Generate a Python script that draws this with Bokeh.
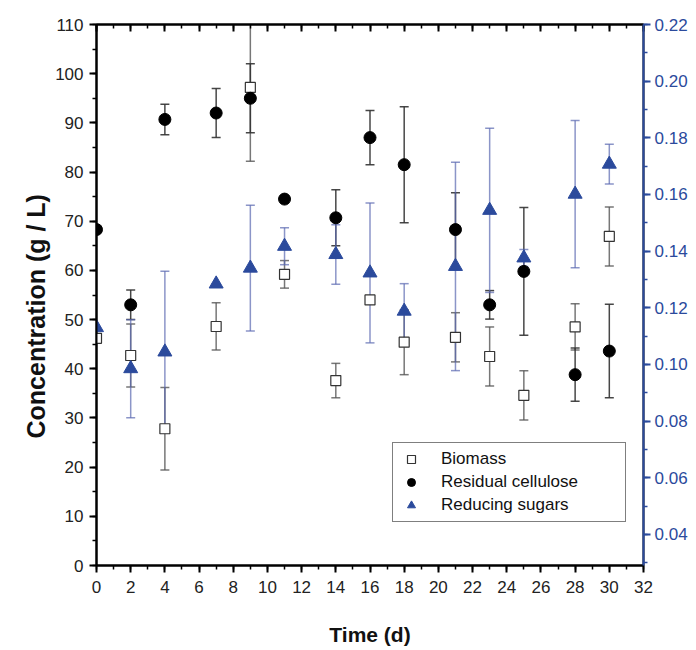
from bokeh.plotting import figure
from bokeh.models import (ColumnDataSource, Range1d, LinearAxis, Whisker, TeeHead, Title,
                          SingleIntervalTicker, PrintfTickFormatter, Legend, LegendItem)
from bokeh.embed import file_html
from bokeh.resources import INLINE

# ---- data ----
time_bio = [0, 2, 4, 7, 9, 11, 14, 16, 18, 21, 23, 25, 28, 30]
biomass = [46.2, 42.7, 27.8, 48.6, 97.2, 59.2, 37.6, 54.0, 45.4, 46.4, 42.5, 34.6, 48.5, 66.9]
biomass_err = [0.0, 6.4, 8.4, 4.8, 15.0, 2.8, 3.5, 0.0, 6.6, 5.0, 6.0, 5.0, 4.7, 6.0]

time_cel = [0, 2, 4, 7, 9, 11, 14, 16, 18, 21, 23, 25, 28, 30]
cellulose = [68.3, 53.0, 90.7, 92.0, 95.0, 74.5, 70.7, 87.0, 81.5, 68.3, 53.0, 59.8, 38.8, 43.6]
cellulose_err = [0.0, 3.0, 3.1, 5.0, 7.0, 0.0, 5.7, 5.5, 11.8, 7.5, 2.9, 13.0, 5.4, 9.5]

time_sug = [0, 2, 4, 7, 9, 11, 14, 16, 18, 21, 23, 25, 28, 30]
sugars = [0.113, 0.0985, 0.1044, 0.1284, 0.134, 0.1417, 0.1388, 0.1323, 0.1188, 0.1346, 0.1544, 0.1376, 0.1601, 0.1707]
sugars_err = [0.0, 0.0173, 0.0285, 0.0, 0.0222, 0.0065, 0.0105, 0.0247, 0.0097, 0.0368, 0.029, 0.003, 0.026, 0.007]

x_label = "Time (d)"
y_label = "Concentration (g / L)"

BLUE = "#2b4a9c"
FONT = "Liberation Sans"

src_bio = ColumnDataSource(dict(t=time_bio, y=biomass,
                                lo=[v - e for v, e in zip(biomass, biomass_err)],
                                hi=[v + e for v, e in zip(biomass, biomass_err)]))
src_cel = ColumnDataSource(dict(t=time_cel, y=cellulose,
                                lo=[v - e for v, e in zip(cellulose, cellulose_err)],
                                hi=[v + e for v, e in zip(cellulose, cellulose_err)]))
src_sug = ColumnDataSource(dict(t=time_sug, y=sugars,
                                lo=[v - e for v, e in zip(sugars, sugars_err)],
                                hi=[v + e for v, e in zip(sugars, sugars_err)]))

p = figure(width=696, height=650, output_backend="svg", toolbar_location=None,
           x_range=Range1d(0, 32), y_range=Range1d(0, 110),
           min_border_left=96, min_border_right=53, min_border_top=24, min_border_bottom=85)
p.extra_y_ranges = {"right": Range1d(0.029, 0.22)}
p.xgrid.visible = False
p.ygrid.visible = False
p.outline_line_color = "black"
p.outline_line_width = 2
p.background_fill_color = "white"
p.border_fill_color = "white"

# axes styling
for ax in (p.xaxis[0], p.yaxis[0]):
    ax.axis_line_width = 2
    ax.major_tick_line_width = 2
    ax.minor_tick_line_width = 1.5
    ax.major_tick_out = 7
    ax.major_tick_in = 0
    ax.minor_tick_out = 4
    ax.minor_tick_in = 0
    ax.major_label_text_font = FONT
    ax.major_label_text_font_size = "17px"
    ax.major_label_text_color = "#222222"
    ax.axis_label_text_font = FONT
    ax.axis_label_text_font_style = "bold"
    ax.axis_label_text_color = "#111111"

p.xaxis[0].ticker = SingleIntervalTicker(interval=2, num_minor_ticks=2)
p.yaxis[0].ticker = SingleIntervalTicker(interval=10, num_minor_ticks=2)
p.xaxis[0].axis_label = x_label
p.xaxis[0].axis_label_text_font_size = "21px"
p.xaxis[0].axis_label_standoff = 27
p.xaxis[0].major_label_standoff = 8
p.yaxis[0].major_label_standoff = 6

# y label as a left-side title, anchored near the bottom of the frame
ytitle = Title(text=y_label, align="left", offset=127,
               text_font=FONT, text_font_size="25px", text_font_style="bold",
               text_color="#111111", standoff=6)
p.add_layout(ytitle, "left")

# top axis with inward ticks
top = LinearAxis(ticker=SingleIntervalTicker(interval=2, num_minor_ticks=2))
top.major_label_text_alpha = 0
top.major_label_text_font_size = "1px"
top.axis_line_width = 2
top.major_tick_in = 7
top.major_tick_out = 0
top.minor_tick_in = 4
top.minor_tick_out = 0
top.major_tick_line_width = 2
top.minor_tick_line_width = 1.5
p.add_layout(top, "above")

# right axis (blue)
right = LinearAxis(y_range_name="right",
                   ticker=SingleIntervalTicker(interval=0.02, num_minor_ticks=2),
                   formatter=PrintfTickFormatter(format="%.2f"))
right.axis_line_color = BLUE
right.axis_line_width = 2
right.major_tick_line_color = BLUE
right.minor_tick_line_color = BLUE
right.major_tick_line_width = 2
right.minor_tick_line_width = 1.5
right.major_tick_out = 7
right.major_tick_in = 0
right.minor_tick_out = 4
right.minor_tick_in = 0
right.major_label_text_color = BLUE
right.major_label_text_font = FONT
right.major_label_text_font_size = "17px"
right.major_label_standoff = 4
p.add_layout(right, "right")

# error bars
def whisk(src, color, alpha, yname=None):
    kw = dict(source=src, base="t", upper="hi", lower="lo", dimension="height",
              line_color=color, line_width=1.5, line_alpha=alpha,
              upper_head=TeeHead(size=9, line_color=color, line_width=1.5, line_alpha=alpha),
              lower_head=TeeHead(size=9, line_color=color, line_width=1.5, line_alpha=alpha))
    if yname:
        kw["y_range_name"] = yname
    w = Whisker(**kw)
    p.add_layout(w)

whisk(src_bio, "#555555", 0.8)
whisk(src_cel, "#333333", 0.9)
whisk(src_sug, "#5a68b0", 0.7, "right")

r_bio = p.scatter("t", "y", source=src_bio, marker="square", size=10,
                  fill_color="white", line_color="#333333", line_width=1.2)
r_cel = p.scatter("t", "y", source=src_cel, marker="circle", size=12,
                  fill_color="black", line_color="black")
r_sug = p.scatter("t", "y", source=src_sug, marker="triangle", size=14,
                  fill_color=BLUE, line_color=BLUE, y_range_name="right")

legend = Legend(items=[LegendItem(label="Biomass", renderers=[r_bio]),
                       LegendItem(label="Residual cellulose", renderers=[r_cel]),
                       LegendItem(label="Reducing sugars", renderers=[r_sug])],
                location=(296, 43))
legend.border_line_color = "black"
legend.border_line_width = 1.5
legend.background_fill_alpha = 1
legend.label_text_font = FONT
legend.label_text_font_size = "17px"
legend.label_text_color = "#111111"
legend.spacing = 3
legend.padding = 6
legend.margin = 0
legend.glyph_width = 24
legend.glyph_height = 20
legend.label_standoff = 18
legend.label_width = 178
legend.label_height = 20
p.add_layout(legend, "center")

open("out.html", "w").write(file_html(p, INLINE))
